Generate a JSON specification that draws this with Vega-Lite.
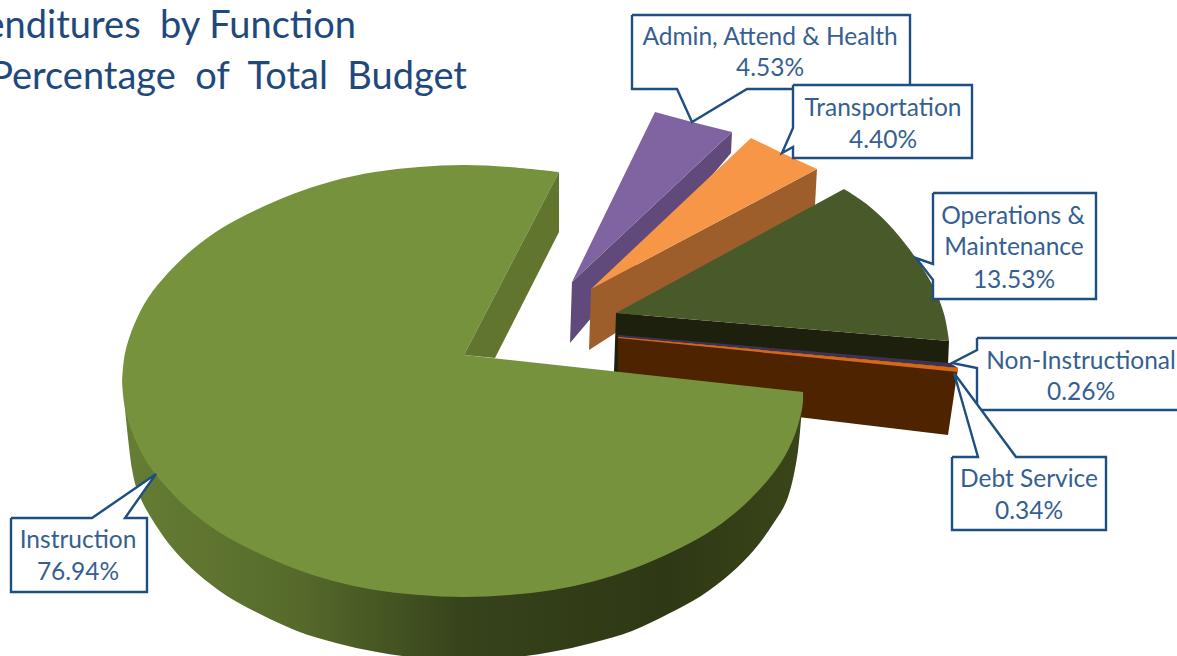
{"$schema":"https://vega.github.io/schema/vega-lite/v6.json","width":1177,"height":656,"padding":0,"autosize":"none","background":"#ffffff","view":{"stroke":null},
"datasets":{
"shapes":[
{"part":"a_admin_wall","s":1,"x":572,"y":282},{"part":"a_admin_wall","s":2,"x":732,"y":132},{"part":"a_admin_wall","s":3,"x":731,"y":153},{"part":"a_admin_wall","s":4,"x":570,"y":343},
{"part":"b_admin_top","s":1,"x":572,"y":282},{"part":"b_admin_top","s":2,"x":655,"y":112},{"part":"b_admin_top","s":3,"x":692,"y":122},{"part":"b_admin_top","s":4,"x":732,"y":132},
{"part":"c_trans_wall","s":1,"x":591,"y":289},{"part":"c_trans_wall","s":2,"x":817,"y":169},{"part":"c_trans_wall","s":3,"x":815,"y":205},{"part":"c_trans_wall","s":4,"x":589,"y":350},
{"part":"d_trans_top","s":1,"x":591,"y":289},{"part":"d_trans_top","s":2,"x":751,"y":138},{"part":"d_trans_top","s":3,"x":782,"y":153},{"part":"d_trans_top","s":4,"x":817,"y":169},
{"part":"e_debt_wall","s":1,"x":618,"y":337},{"part":"e_debt_wall","s":2,"x":958,"y":368},{"part":"e_debt_wall","s":3,"x":948,"y":435},{"part":"e_debt_wall","s":4,"x":790,"y":416},{"part":"e_debt_wall","s":5,"x":614,"y":374},
{"part":"f_ops_wall","s":1,"x":616,"y":313},{"part":"f_ops_wall","s":2,"x":949,"y":341},{"part":"f_ops_wall","s":3,"x":948,"y":364},{"part":"f_ops_wall","s":4,"x":618,"y":337},{"part":"f_ops_wall","s":5,"x":618,"y":372},{"part":"f_ops_wall","s":6,"x":614,"y":372},
{"part":"g_non_top","s":1,"x":618,"y":335},{"part":"g_non_top","s":2,"x":950,"y":363},{"part":"g_non_top","s":3,"x":958,"y":368},{"part":"g_non_top","s":4,"x":618,"y":337},
{"part":"h_debt_top","s":1,"x":618,"y":337},{"part":"h_debt_top","s":2,"x":958,"y":368},{"part":"h_debt_top","s":3,"x":958,"y":372},{"part":"h_debt_top","s":4,"x":618,"y":338}
],
"wall":[
{"s":1,"x":803,"y":392},{"s":2,"x":798,"y":451},{"s":3,"x":788,"y":497},{"s":4,"x":773,"y":524},{"s":5,"x":754,"y":550},{"s":6,"x":730,"y":574},{"s":7,"x":701,"y":596},{"s":8,"x":668,"y":614},{"s":9,"x":632,"y":631},{"s":10,"x":592,"y":643},{"s":11,"x":551,"y":652},{"s":12,"x":508,"y":658},{"s":13,"x":464,"y":660},{"s":14,"x":420,"y":658},{"s":15,"x":377,"y":652},{"s":16,"x":336,"y":643},{"s":17,"x":297,"y":631},{"s":18,"x":260,"y":614},{"s":19,"x":227,"y":596},{"s":20,"x":198,"y":574},{"s":21,"x":174,"y":550},{"s":22,"x":155,"y":524},{"s":23,"x":140,"y":497},{"s":24,"x":132,"y":469},{"s":25,"x":125,"y":409}
],
"arcs":[
{"part":"i_ops_arc","s":1,"x":844,"y":189},{"part":"i_ops_arc","s":2,"x":869,"y":206},{"part":"i_ops_arc","s":3,"x":893,"y":229},{"part":"i_ops_arc","s":4,"x":915,"y":257},{"part":"i_ops_arc","s":5,"x":933,"y":286},{"part":"i_ops_arc","s":6,"x":944,"y":314},{"part":"i_ops_arc","s":7,"x":949,"y":341},
{"part":"j_arc_a","s":1,"x":803,"y":392},{"part":"j_arc_a","s":2,"x":802,"y":409},{"part":"j_arc_a","s":3,"x":794,"y":437},{"part":"j_arc_a","s":4,"x":780,"y":464},{"part":"j_arc_a","s":5,"x":760,"y":489},{"part":"j_arc_a","s":6,"x":735,"y":513},{"part":"j_arc_a","s":7,"x":706,"y":534},{"part":"j_arc_a","s":8,"x":672,"y":552},{"part":"j_arc_a","s":9,"x":635,"y":568},{"part":"j_arc_a","s":10,"x":595,"y":581},{"part":"j_arc_a","s":11,"x":553,"y":590},{"part":"j_arc_a","s":12,"x":509,"y":595},{"part":"j_arc_a","s":13,"x":464,"y":597},{"part":"j_arc_a","s":14,"x":419,"y":595},{"part":"j_arc_a","s":15,"x":375,"y":590},{"part":"j_arc_a","s":16,"x":333,"y":581},{"part":"j_arc_a","s":17,"x":293,"y":568},{"part":"j_arc_a","s":18,"x":256,"y":552},{"part":"j_arc_a","s":19,"x":222,"y":534},{"part":"j_arc_a","s":20,"x":193,"y":513},{"part":"j_arc_a","s":21,"x":168,"y":489},{"part":"j_arc_a","s":22,"x":148,"y":464},{"part":"j_arc_a","s":23,"x":134,"y":437},{"part":"j_arc_a","s":24,"x":125,"y":409},{"part":"j_arc_a","s":25,"x":122,"y":381},
{"part":"j_arc_b","s":1,"x":122,"y":381},{"part":"j_arc_b","s":2,"x":125,"y":353},{"part":"j_arc_b","s":3,"x":134,"y":325},{"part":"j_arc_b","s":4,"x":148,"y":298},{"part":"j_arc_b","s":5,"x":168,"y":273},{"part":"j_arc_b","s":6,"x":193,"y":249},{"part":"j_arc_b","s":7,"x":222,"y":228},{"part":"j_arc_b","s":8,"x":256,"y":210},{"part":"j_arc_b","s":9,"x":293,"y":194},{"part":"j_arc_b","s":10,"x":333,"y":181},{"part":"j_arc_b","s":11,"x":375,"y":172},{"part":"j_arc_b","s":12,"x":419,"y":167},{"part":"j_arc_b","s":13,"x":464,"y":165},{"part":"j_arc_b","s":14,"x":509,"y":167},{"part":"j_arc_b","s":15,"x":559,"y":172}
],
"wedges":[
{"part":"i_ops_wedge","s":1,"x":616,"y":313},{"part":"i_ops_wedge","s":2,"x":844,"y":189},{"part":"i_ops_wedge","s":3,"x":900,"y":255},{"part":"i_ops_wedge","s":4,"x":949,"y":341},
{"part":"j_mid","s":1,"x":464,"y":355},{"part":"j_mid","s":2,"x":803,"y":392},{"part":"j_mid","s":3,"x":470,"y":420},{"part":"j_mid","s":4,"x":122,"y":381},{"part":"j_mid","s":5,"x":300,"y":260},{"part":"j_mid","s":6,"x":559,"y":172},
{"part":"k_cut","s":1,"x":464,"y":355},{"part":"k_cut","s":2,"x":559,"y":172},{"part":"k_cut","s":3,"x":559,"y":232},{"part":"k_cut","s":4,"x":495,"y":358}
],
"callouts":[
{"part":"a_admin","s":1,"x":632,"y":15},{"part":"a_admin","s":2,"x":910,"y":15},{"part":"a_admin","s":3,"x":910,"y":89},{"part":"a_admin","s":4,"x":747,"y":89},{"part":"a_admin","s":5,"x":692,"y":122},{"part":"a_admin","s":6,"x":677,"y":89},{"part":"a_admin","s":7,"x":632,"y":89},{"part":"a_admin","s":8,"x":632,"y":15},
{"part":"b_trans","s":1,"x":793,"y":85},{"part":"b_trans","s":2,"x":972,"y":85},{"part":"b_trans","s":3,"x":972,"y":158},{"part":"b_trans","s":4,"x":793,"y":158},{"part":"b_trans","s":5,"x":793,"y":147},{"part":"b_trans","s":6,"x":782,"y":153},{"part":"b_trans","s":7,"x":793,"y":128},{"part":"b_trans","s":8,"x":793,"y":85},
{"part":"c_ops","s":1,"x":933,"y":193},{"part":"c_ops","s":2,"x":1096,"y":193},{"part":"c_ops","s":3,"x":1096,"y":299},{"part":"c_ops","s":4,"x":933,"y":299},{"part":"c_ops","s":5,"x":933,"y":280},{"part":"c_ops","s":6,"x":916,"y":258},{"part":"c_ops","s":7,"x":933,"y":264},{"part":"c_ops","s":8,"x":933,"y":193},
{"part":"d_non","s":1,"x":977,"y":338},{"part":"d_non","s":2,"x":1182,"y":338},{"part":"d_non","s":3,"x":1182,"y":410},{"part":"d_non","s":4,"x":977,"y":410},{"part":"d_non","s":5,"x":977,"y":368},{"part":"d_non","s":6,"x":952,"y":363},{"part":"d_non","s":7,"x":977,"y":350},{"part":"d_non","s":8,"x":977,"y":338},
{"part":"e_debt","s":1,"x":952,"y":457},{"part":"e_debt","s":2,"x":978,"y":457},{"part":"e_debt","s":3,"x":954,"y":373},{"part":"e_debt","s":4,"x":1016,"y":457},{"part":"e_debt","s":5,"x":1106,"y":457},{"part":"e_debt","s":6,"x":1106,"y":530},{"part":"e_debt","s":7,"x":952,"y":530},{"part":"e_debt","s":8,"x":952,"y":457},
{"part":"f_inst","s":1,"x":11,"y":518},{"part":"f_inst","s":2,"x":92,"y":518},{"part":"f_inst","s":3,"x":156,"y":474},{"part":"f_inst","s":4,"x":125,"y":518},{"part":"f_inst","s":5,"x":147,"y":518},{"part":"f_inst","s":6,"x":147,"y":592},{"part":"f_inst","s":7,"x":11,"y":592},{"part":"f_inst","s":8,"x":11,"y":518}
],
"labels":[
{"t":"Instruction","x":78,"y":541},{"t":"76.94%","x":78,"y":573},
{"t":"Admin, Attend & Health","x":770,"y":38},{"t":"4.53%","x":770,"y":69},
{"t":"Transportation","x":883,"y":109},{"t":"4.40%","x":883,"y":141},
{"t":"Operations &","x":1013,"y":217},{"t":"Maintenance","x":1014,"y":248},{"t":"13.53%","x":1014,"y":281},
{"t":"Non-Instructional","x":1081,"y":362},{"t":"0.26%","x":1081,"y":393},
{"t":"Debt Service","x":1029,"y":480},{"t":"0.34%","x":1029,"y":512}
],
"titles":[
{"t":"Expenditures\u00a0 by Function","x":356,"y":27},
{"t":"Percentage\u00a0 of\u00a0 Total\u00a0 Budget","x":467,"y":78}
]},
"encoding":{
"x":{"field":"x","type":"quantitative","axis":null,"scale":{"domain":[0,1177],"nice":false,"zero":false}},
"y":{"field":"y","type":"quantitative","axis":null,"scale":{"domain":[656,0],"nice":false,"zero":false}}
},
"layer":[
{"data":{"name":"shapes"},"mark":{"type":"line","stroke":null,"clip":true},
"encoding":{"order":{"field":"s","type":"quantitative"},
"fill":{"field":"part","type":"nominal","legend":null,"scale":{"domain":["a_admin_wall","b_admin_top","c_trans_wall","d_trans_top","e_debt_wall","f_ops_wall","g_non_top","h_debt_top"],"range":["#604a7b","#8064a2","#9e5e2b","#f79646","#4d2300","#1c200d","#403152","#d9680f"]}}}},
{"data":{"name":"wall"},"mark":{"type":"line","stroke":null,"clip":true,"interpolate":"cardinal","tension":0,"fill":{"gradient":"linear","x1":0,"y1":0,"x2":1,"y2":0,"stops":[{"offset":0,"color":"#667d34"},{"offset":0.25,"color":"#566b2b"},{"offset":0.5,"color":"#36431b"},{"offset":0.8,"color":"#2e3815"},{"offset":1,"color":"#3a4619"}]}},
"encoding":{"order":{"field":"s","type":"quantitative"}}},
{"data":{"name":"arcs"},"mark":{"type":"line","stroke":null,"clip":true,"interpolate":"cardinal","tension":0},
"encoding":{"order":{"field":"s","type":"quantitative"},
"fill":{"field":"part","type":"nominal","legend":null,"scale":{"domain":["i_ops_arc","j_arc_a","j_arc_b"],"range":["#48592a","#76923c","#76923c"]}}}},
{"data":{"name":"wedges"},"mark":{"type":"line","stroke":null,"clip":true},
"encoding":{"order":{"field":"s","type":"quantitative"},
"fill":{"field":"part","type":"nominal","legend":null,"scale":{"domain":["i_ops_wedge","j_mid","k_cut"],"range":["#48592a","#76923c","#61752f"]}}}},
{"data":{"name":"callouts"},"mark":{"type":"line","fill":"#ffffff","stroke":"#1f4e80","strokeWidth":2.4,"strokeJoin":"miter","clip":true},
"encoding":{"order":{"field":"s","type":"quantitative"},"detail":{"field":"part","type":"nominal"}}},
{"data":{"name":"labels"},"mark":{"type":"text","font":"Lato","fontSize":24.5,"align":"center","baseline":"middle","fill":"#365f91"},
"encoding":{"text":{"field":"t","type":"nominal"}}},
{"data":{"name":"titles"},"mark":{"type":"text","font":"Lato","fontSize":38,"align":"right","baseline":"middle","fill":"#1f497d"},
"encoding":{"text":{"field":"t","type":"nominal"}}}
],
"resolve":{"scale":{"fill":"independent"}}
}
